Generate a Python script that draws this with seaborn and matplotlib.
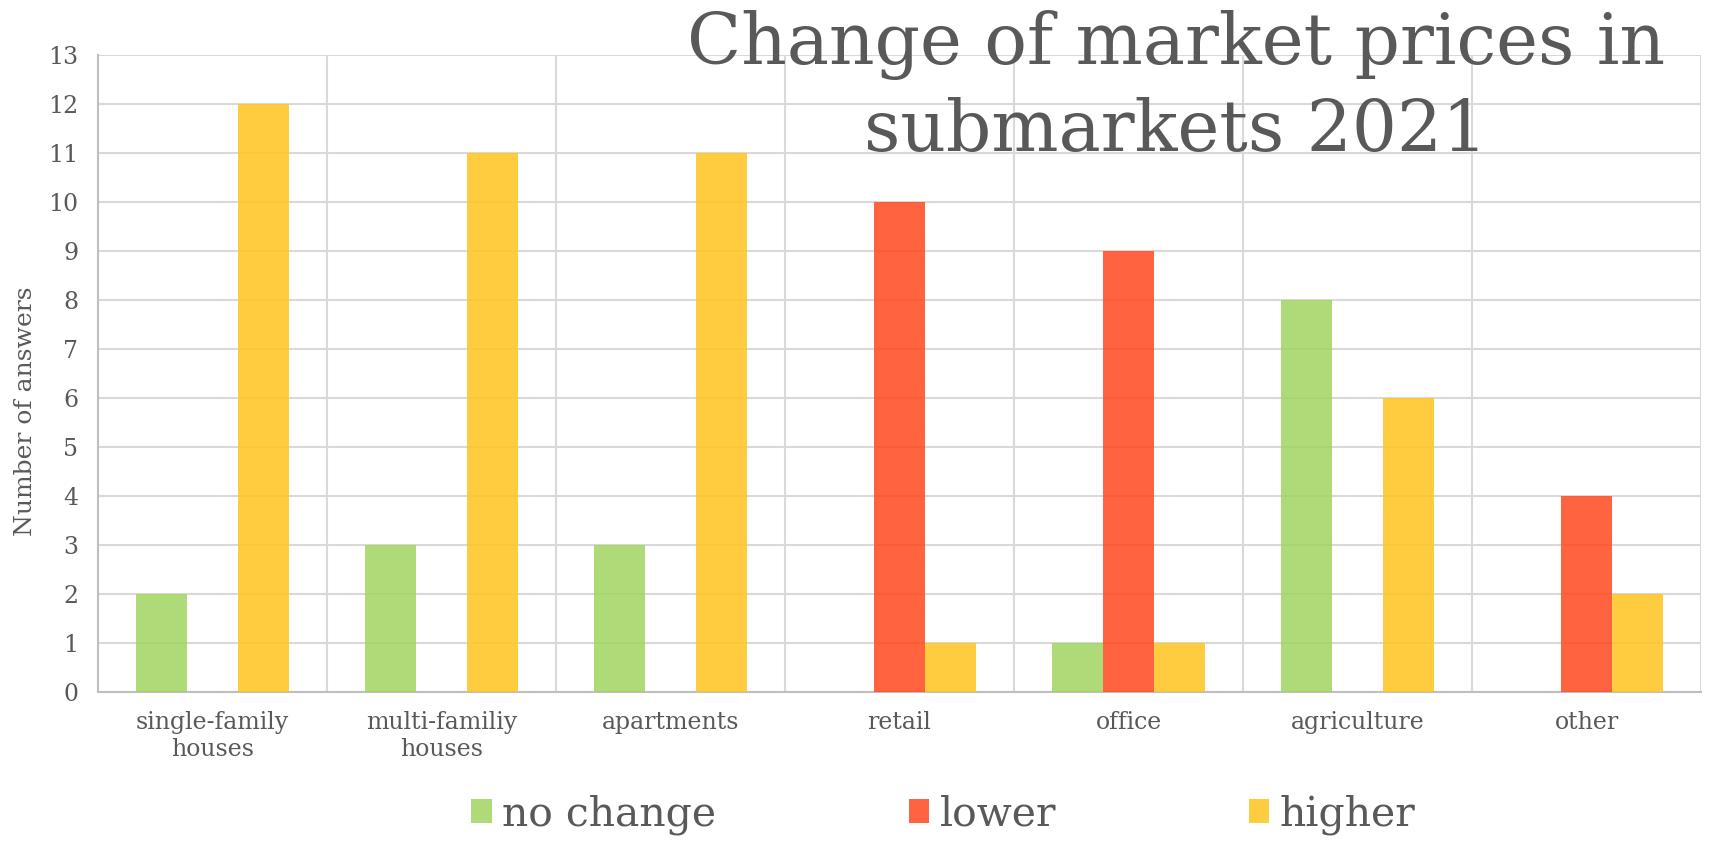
import matplotlib
matplotlib.use("Agg")
import matplotlib.pyplot as plt
import seaborn as sns
import pandas as pd
from matplotlib.patches import Patch

categories = ["single-family\nhouses", "multi-familiy\nhouses", "apartments",
              "retail", "office", "agriculture", "other"]
series = ["no change", "lower", "higher"]
no_change = [2, 3, 3, 0, 1, 8, 0]
lower = [0, 0, 0, 10, 9, 0, 4]
higher = [12, 11, 11, 1, 1, 6, 2]
colors = ["#A0D460", "#FF481E", "#FFC41E"]

rows = []
for s, vals in zip(series, [no_change, lower, higher]):
    for c, v in zip(categories, vals):
        rows.append({"category": c, "series": s, "value": v})
df = pd.DataFrame(rows)

sns.set_style("white")
plt.rcParams["font.family"] = ["DejaVu Serif"]
txt = "#595959"
grid = "#D9D9D9"

fig = plt.figure(figsize=(17.12, 8.48), dpi=100)
ax = fig.add_axes([0.0572, 0.184, 0.9364, 0.751])

sns.barplot(data=df, x="category", y="value", hue="series", palette=colors,
            hue_order=series, order=categories, width=0.667, saturation=1,
            alpha=0.85, linewidth=0, dodge=True, legend=False, ax=ax, zorder=3)

ax.set_ylim(0, 13)
ax.set_yticks(range(0, 14))
ax.set_xlim(-0.5, len(categories) - 0.5)
ax.yaxis.grid(True, color=grid, lw=1.5, zorder=0)
for xb in range(1, len(categories) + 1):
    ax.axvline(xb - 0.5, color=grid, lw=1.5, zorder=0)
for side in ["top", "right"]:
    ax.spines[side].set_visible(False)
for side in ["left", "bottom"]:
    ax.spines[side].set_color("#BFBFBF")
    ax.spines[side].set_linewidth(1.5)

ax.tick_params(axis="both", length=0, colors=txt, labelsize=17)
ax.tick_params(axis="x", pad=14)
ax.tick_params(axis="y", pad=14)
ax.set_xlabel("")
ax.set_ylabel("Number of answers", color=txt, fontsize=18)
ax.yaxis.set_label_coords(-0.038, 0.441)

fig.text(0.687, 0.988, "Change of market prices in\nsubmarkets 2021",
         ha="center", va="top", fontsize=51, color=txt, linespacing=1.32)

handles = [Patch(facecolor=c, alpha=0.85, edgecolor="none") for c in colors]
fig.legend(handles, series, loc="lower center", bbox_to_anchor=(0.551, -0.028),
           ncol=3, frameon=False, fontsize=29.5, labelcolor=txt,
           handlelength=0.5, handleheight=0.5, handletextpad=0.25,
           columnspacing=4.7)

fig.savefig("out.png", dpi=100)
